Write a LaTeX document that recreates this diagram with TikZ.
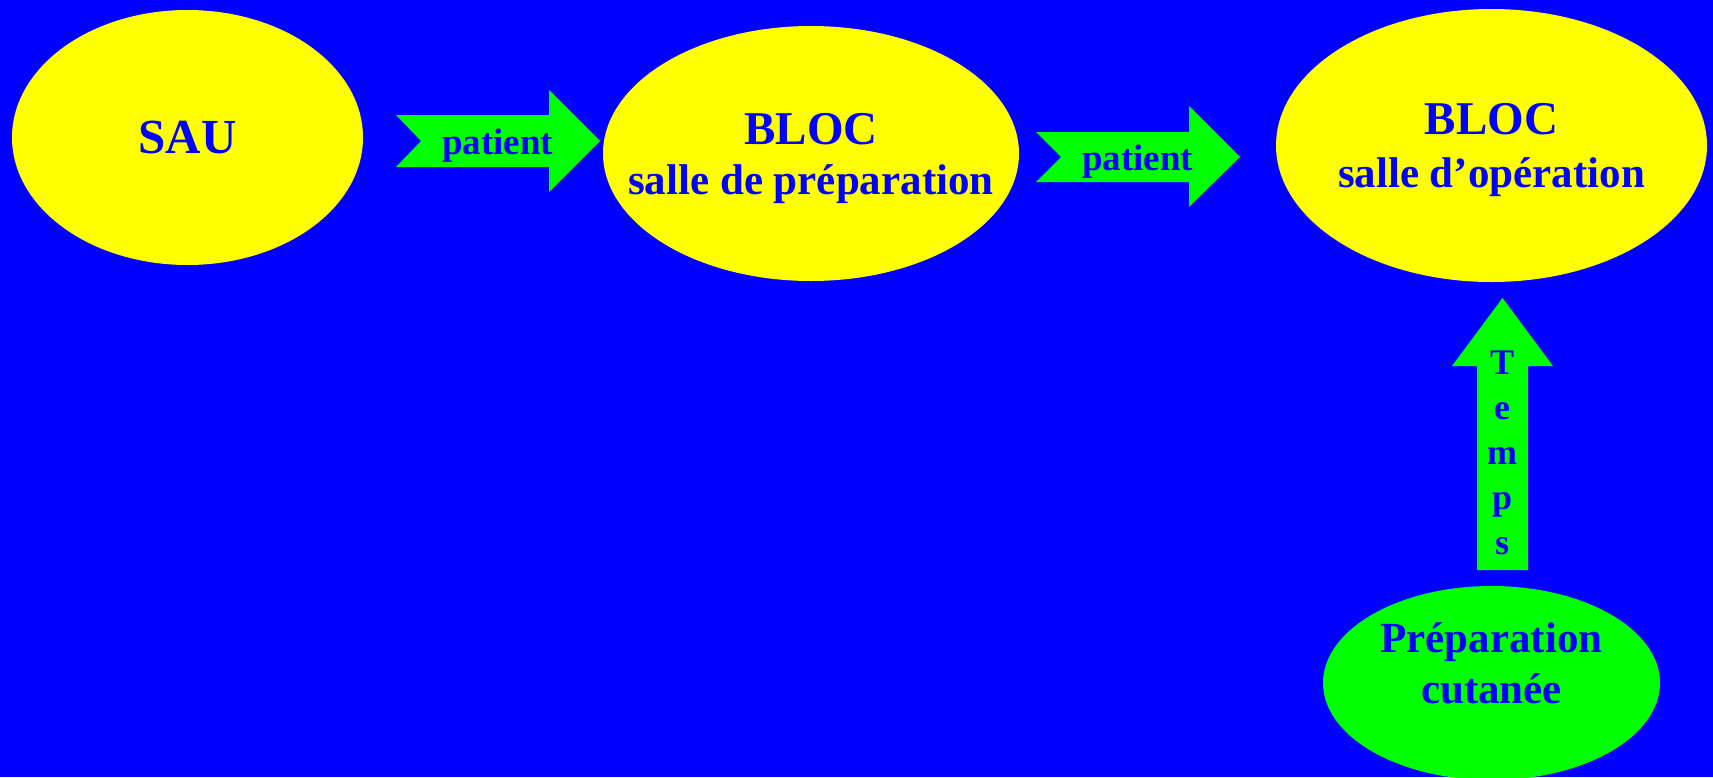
\documentclass[tikz,border=0pt]{standalone}
\usepackage{fontspec}
\setmainfont{Liberation Serif}
\usepackage{tikz}
\usetikzlibrary{shapes.geometric}
\definecolor{slideblue}{RGB}{0,0,255}
\definecolor{ovalyellow}{RGB}{255,255,0}
\definecolor{flashgreen}{RGB}{0,255,0}
\tikzstyle{service} = [ellipse, inner sep=0pt, fill=ovalyellow, text=slideblue, align=center, text depth=0pt, font=\bfseries\fontsize{43}{50}\selectfont]
\tikzstyle{soin} = [service, fill=flashgreen]
\tikzstyle{flash} = [fill=flashgreen]
\tikzstyle{flashtext} = [text=slideblue, anchor=base, font=\bfseries\fontsize{37}{44}\selectfont]

\begin{document}
\begin{tikzpicture}[x=1pt, y=-1pt]

\fill [slideblue] (0,0) rectangle (1713,777);
\useasboundingbox (0,0) rectangle (1713,777);

% fleches
\fill [flash] (396,115) -- (549,115) -- (549,90) -- (600,141) -- (549,192) -- (549,167) -- (396,167) -- (421,141) -- cycle;
\fill [flash] (1036,132) -- (1189,132) -- (1189,106) -- (1240,157) -- (1189,207) -- (1189,182) -- (1036,182) -- (1061,157) -- cycle;
\fill [flash] (1477,570) -- (1477,366) -- (1452,366) -- (1502.5,298) -- (1553,366) -- (1528,366) -- (1528,570) -- cycle;

\node (sau) [service, minimum width=351pt, minimum height=255pt, font=\bfseries\fontsize{49}{51}\selectfont] at (187.5,137.5) {SAU};
\node (prep) [service, minimum width=416pt, minimum height=255pt] at (811,153.5) {\makebox[0pt]{\fontsize{47}{50}\selectfont BLOC}\\\makebox[0pt]{salle de préparation}};
\node (op) [service, minimum width=431pt, minimum height=273pt, font=\bfseries\fontsize{43}{53}\selectfont, text depth=-8pt] at (1491.5,145.5) {\makebox[0pt]{\fontsize{47}{53}\selectfont BLOC}\\\makebox[0pt]{salle d’opération}};
\node (cutanee) [soin, minimum width=337pt, minimum height=194pt, font=\bfseries\fontsize{43}{51}\selectfont, text depth=40pt] at (1491.5,683) {\makebox[0pt]{Préparation}\\\makebox[0pt]{cutanée}};

\node (patient1) [flashtext] at (497.5,154) {patient};
\node (patient2) [flashtext] at (1137.5,170) {patient};
\node (temps) [text=slideblue, align=center, text depth=0pt, font=\bfseries\fontsize{36}{45}\selectfont] at (1502,453) {T\\e\\m\\p\\s};

\end{tikzpicture}
\end{document}
